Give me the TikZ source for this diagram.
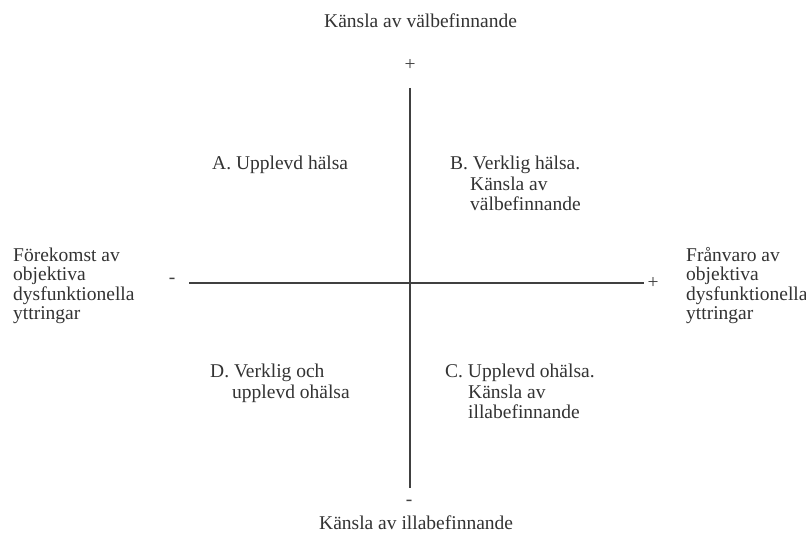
\documentclass[tikz,border=0pt]{standalone}
\usepackage{fontspec}
\setmainfont{Liberation Serif}
\begin{document}
\begin{tikzpicture}[x=1pt,y=-1pt,
  txt/.style={font=\fontsize{19.5}{19.5}\selectfont, inner sep=0pt, anchor=base west, text=black!80},
  sgn/.style={font=\fontsize{19.5}{19.5}\selectfont, inner sep=0pt, text=black!75},
  axis/.style={draw=black!75, line width=1.6pt}]
\useasboundingbox[fill=white] (0,0) rectangle (806,535);
% axes end points
\coordinate (vt) at (410,88);
\coordinate (vb) at (410,488);
\coordinate (hl) at (189,283);
\coordinate (hr) at (644,283);
\draw[axis] (vt) -- (vb);
\draw[axis] (hl) -- (hr);
% signs
\node[sgn] (ptop) at (410,65) {+};
\node[sgn] (mbot) at (409,503) {-};
\node[sgn] (mleft) at (172,281) {-};
\node[sgn] (pright) at (653,283) {+};
% titles
\node[txt] (top) at (324,28) {Känsla av välbefinnande};
\node[txt] (bot) at (319,529) {Känsla av illabefinnande};
% left
\node[txt] (l1) at (13,261) {Förekomst av};
\node[txt] (l2) at (13,280) {objektiva};
\node[txt] (l3) at (13,300) {dysfunktionella};
\node[txt] (l4) at (13,319) {yttringar};
% right
\node[txt] (r1) at (686,261) {Frånvaro av};
\node[txt] (r2) at (686,280) {objektiva};
\node[txt] (r3) at (686,300) {dysfunktionella};
\node[txt] (r4) at (686,319) {yttringar};
% quadrants
\node[txt] (a1) at (212,169) {A. Upplevd hälsa};
\node[txt] (b1) at (450,169) {B. Verklig hälsa.};
\node[txt] (b2) at (470,190) {Känsla av};
\node[txt] (b3) at (470,210) {välbefinnande};
\node[txt] (d1) at (210,377) {D. Verklig och};
\node[txt] (d2) at (232,398) {upplevd ohälsa};
\node[txt] (c1) at (445,377) {C. Upplevd ohälsa.};
\node[txt] (c2) at (468,398) {Känsla av};
\node[txt] (c3) at (468,418) {illabefinnande};
\end{tikzpicture}
\end{document}
